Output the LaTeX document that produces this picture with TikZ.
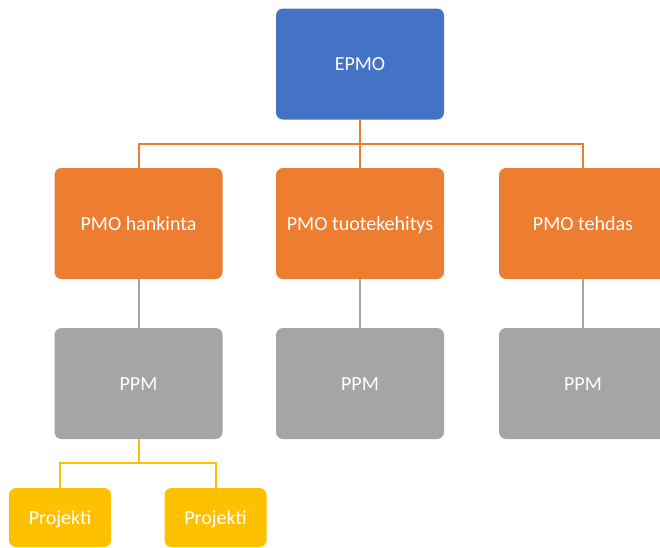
\documentclass[tikz,border=0pt]{standalone}
\usepackage{fontspec}
\setmainfont{Carlito}
\definecolor{boxblue}{HTML}{4472C4}
\definecolor{boxorange}{HTML}{ED7D31}
\definecolor{boxgray}{HTML}{A5A5A5}
\definecolor{boxyellow}{HTML}{FFC000}
\begin{document}
\begin{tikzpicture}[x=1pt,y=-1pt,
  unit/.style={rounded corners=7pt, minimum width=168pt, minimum height=111pt,
    inner sep=0pt, text=white, text height=13pt, text depth=0pt,
    font=\fontsize{20}{24}\selectfont},
  small/.style={unit, minimum width=102pt, minimum height=59pt},
  link/.style={line width=2pt}]
\useasboundingbox (0,0) rectangle (660,547);
\clip (0,0) rectangle (660,547);

% top level
\node[unit, fill=boxblue] (epmo) at (360,64) {EPMO};

% PMO level
\node[unit, fill=boxorange] (hank) at (138.5,223.5) {PMO hankinta};
\node[unit, fill=boxorange] (tuote) at (360,223.5) {PMO tuotekehitys};
\node[unit, fill=boxorange] (teh) at (583,223.5) {PMO tehdas};

% PPM level
\node[unit, fill=boxgray] (ppm1) at (138.5,383.5) {PPM};
\node[unit, fill=boxgray] (ppm2) at (360,383.5) {PPM};
\node[unit, fill=boxgray] (ppm3) at (583,383.5) {PPM};

% projects
\node[small, fill=boxyellow] (proj1) at (60,517.5) {Projekti};
\node[small, fill=boxyellow] (proj2) at (215.5,517.5) {Projekti};

% connectors
\coordinate (obus) at (360,144);
\coordinate (ybus) at (138.5,463);
\draw[link, boxorange] (epmo.south) -- (tuote.north);
\draw[link, boxorange] (hank.north) |- (obus) -| (teh.north);
\draw[link, boxgray] (hank.south) -- (ppm1.north);
\draw[link, boxgray] (tuote.south) -- (ppm2.north);
\draw[link, boxgray] (teh.south) -- (ppm3.north);
\draw[link, boxyellow] (ppm1.south) -- (ybus);
\draw[link, boxyellow] (proj1.north) |- (ybus) -| (proj2.north);
\end{tikzpicture}
\end{document}
